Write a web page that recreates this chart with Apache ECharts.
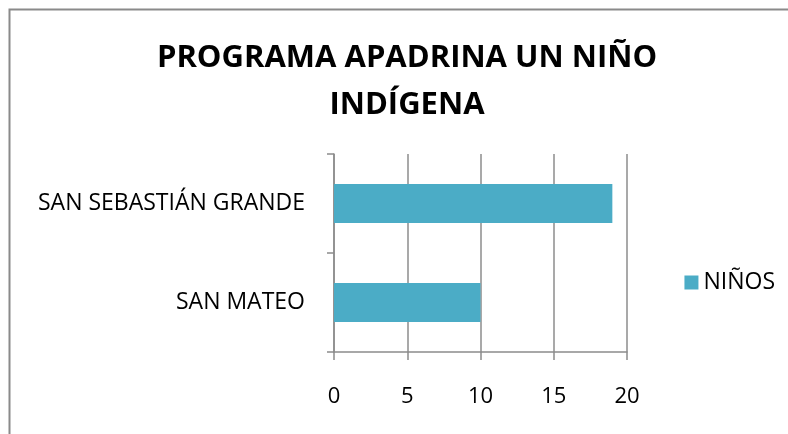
<!DOCTYPE html>
<html>
<head>
<meta charset="utf-8">
<script src="https://cdn.jsdelivr.net/npm/echarts@6/dist/echarts.min.js"></script>
<style>
  html, body { margin: 0; padding: 0; background: #fff; }
  #chartDom { width: 788px; height: 434px; }
</style>
</head>
<body>
<div id="chartDom"></div>
<script>
const categories = ['SAN MATEO', 'SAN SEBASTIÁN GRANDE'];
const ninos = [10, 19];
const seriesName = 'NIÑOS';
const titleText = 'PROGRAMA APADRINA UN NIÑO\nINDÍGENA';

const chart = echarts.init(document.getElementById('chartDom'));
const font = '"Open Sans", sans-serif';
const gray = '#8c8c8c';

chart.setOption({
  animation: false,
  textStyle: { fontFamily: font },
  graphic: [{
    type: 'rect',
    shape: { x: 9.5, y: 9.5, width: 1000, height: 1000 },
    style: { fill: 'none', stroke: '#8a8a8a', lineWidth: 2 },
    silent: true
  }],
  title: {
    text: titleText,
    left: 402,
    textAlign: 'center',
    top: 30,
    textStyle: { fontFamily: font, fontSize: 31, fontWeight: 'bold', color: '#000', lineHeight: 47 }
  },
  legend: {
    data: [seriesName],
    right: 8,
    top: 266,
    icon: 'rect',
    itemWidth: 14,
    itemHeight: 14,
    itemGap: 8,
    textStyle: { fontFamily: font, fontSize: 23, color: '#000' }
  },
  grid: { left: 334, right: 161, top: 154, bottom: 82, containLabel: false },
  xAxis: {
    type: 'value',
    min: 0,
    max: 20,
    interval: 5,
    axisLine: { show: true, lineStyle: { color: gray, width: 1.5 } },
    axisTick: { show: true, length: 8, lineStyle: { color: gray, width: 1.5 } },
    axisLabel: { margin: 34, fontSize: 22, color: '#000', fontFamily: font },
    splitLine: { show: true, lineStyle: { color: gray, width: 1.5 } }
  },
  yAxis: {
    type: 'category',
    data: categories,
    axisLine: { show: true, lineStyle: { color: gray, width: 1.5 } },
    axisTick: { show: true, length: 7, lineStyle: { color: gray, width: 1.5 } },
    axisLabel: { margin: 29, fontSize: 23, color: '#000', fontFamily: font }
  },
  series: [{
    name: seriesName,
    type: 'bar',
    data: ninos,
    barWidth: 39,
    itemStyle: { color: '#4BACC6' }
  }]
});
</script>
</body>
</html>
